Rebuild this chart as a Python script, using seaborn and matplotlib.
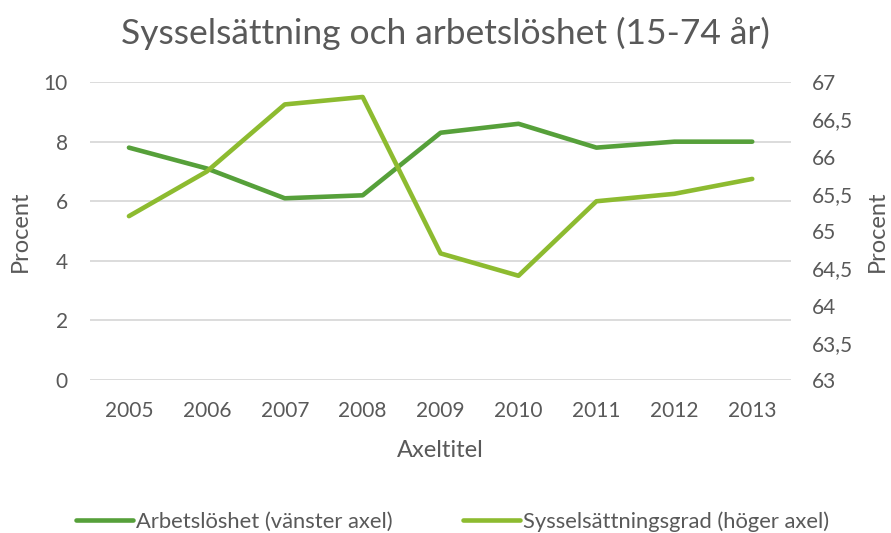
import pandas as pd
import matplotlib.pyplot as plt
import seaborn as sns
from matplotlib.lines import Line2D

years = ['2005', '2006', '2007', '2008', '2009', '2010', '2011', '2012', '2013']
arbetsloshet = [7.8, 7.1, 6.1, 6.2, 8.3, 8.6, 7.8, 8.0, 8.0]
sysselsattning = [65.2, 65.8, 66.7, 66.8, 64.7, 64.4, 65.4, 65.5, 65.7]
left_ticks = [0, 2, 4, 6, 8, 10]
right_ticks = [63, 63.5, 64, 64.5, 65, 65.5, 66, 66.5, 67]

df = pd.DataFrame({'year': years, 'arb': arbetsloshet, 'syss': sysselsattning})

sns.set_style('white')
plt.rcParams['font.family'] = ['Lato', 'DejaVu Sans']
txt = '#595959'
dark = '#56A03A'
light = '#8DBB30'

fig = plt.figure(figsize=(8.91, 5.33), dpi=100)
ax = fig.add_axes([0.101, 0.287, 0.787, 0.559])
ax2 = ax.twinx()

sns.lineplot(data=df, x='year', y='arb', ax=ax, color=dark, linewidth=3.3, sort=False)
sns.lineplot(data=df, x='year', y='syss', ax=ax2, color=light, linewidth=3.3, sort=False)

ax.set_xlim(-0.5, 8.5)
ax.set_ylim(0, 10)
ax.set_yticks(left_ticks)
ax2.set_ylim(63, 67)
ax2.set_yticks(right_ticks)
ax2.set_yticklabels([f'{t:g}'.replace('.', ',') for t in right_ticks])

ax.grid(axis='y', color='#D9D9D9', linewidth=1.3)
ax.set_axisbelow(True)
for a in (ax, ax2):
    for s in a.spines.values():
        s.set_visible(False)
    a.tick_params(length=0, labelsize=15, colors=txt)
ax.tick_params(axis='y', pad=16)
ax.tick_params(axis='x', pad=15)
ax2.tick_params(axis='y', pad=15)

ax.set_xlabel('Axeltitel', fontsize=17, color=txt, labelpad=14)
ax.set_ylabel('Procent', fontsize=17, color=txt, labelpad=9)
ax2.set_ylabel('Procent', fontsize=17, color=txt, labelpad=10)

fig.text(0.5, 0.938, 'Sysselsättning och arbetslöshet (15-74 år)', fontsize=25.5,
         color=txt, ha='center', va='center')

handles = [Line2D([], [], color=dark, linewidth=3.3),
           Line2D([], [], color=light, linewidth=3.3)]
fig.legend(handles, ['Arbetslöshet (vänster axel)', 'Sysselsättningsgrad (höger axel)'],
           loc='center', bbox_to_anchor=(0.508, 0.022), ncol=2, frameon=False,
           fontsize=15.8, labelcolor=txt, handlelength=2.6, handletextpad=0.15,
           columnspacing=3.2)

fig.savefig('out.png', dpi=100)
